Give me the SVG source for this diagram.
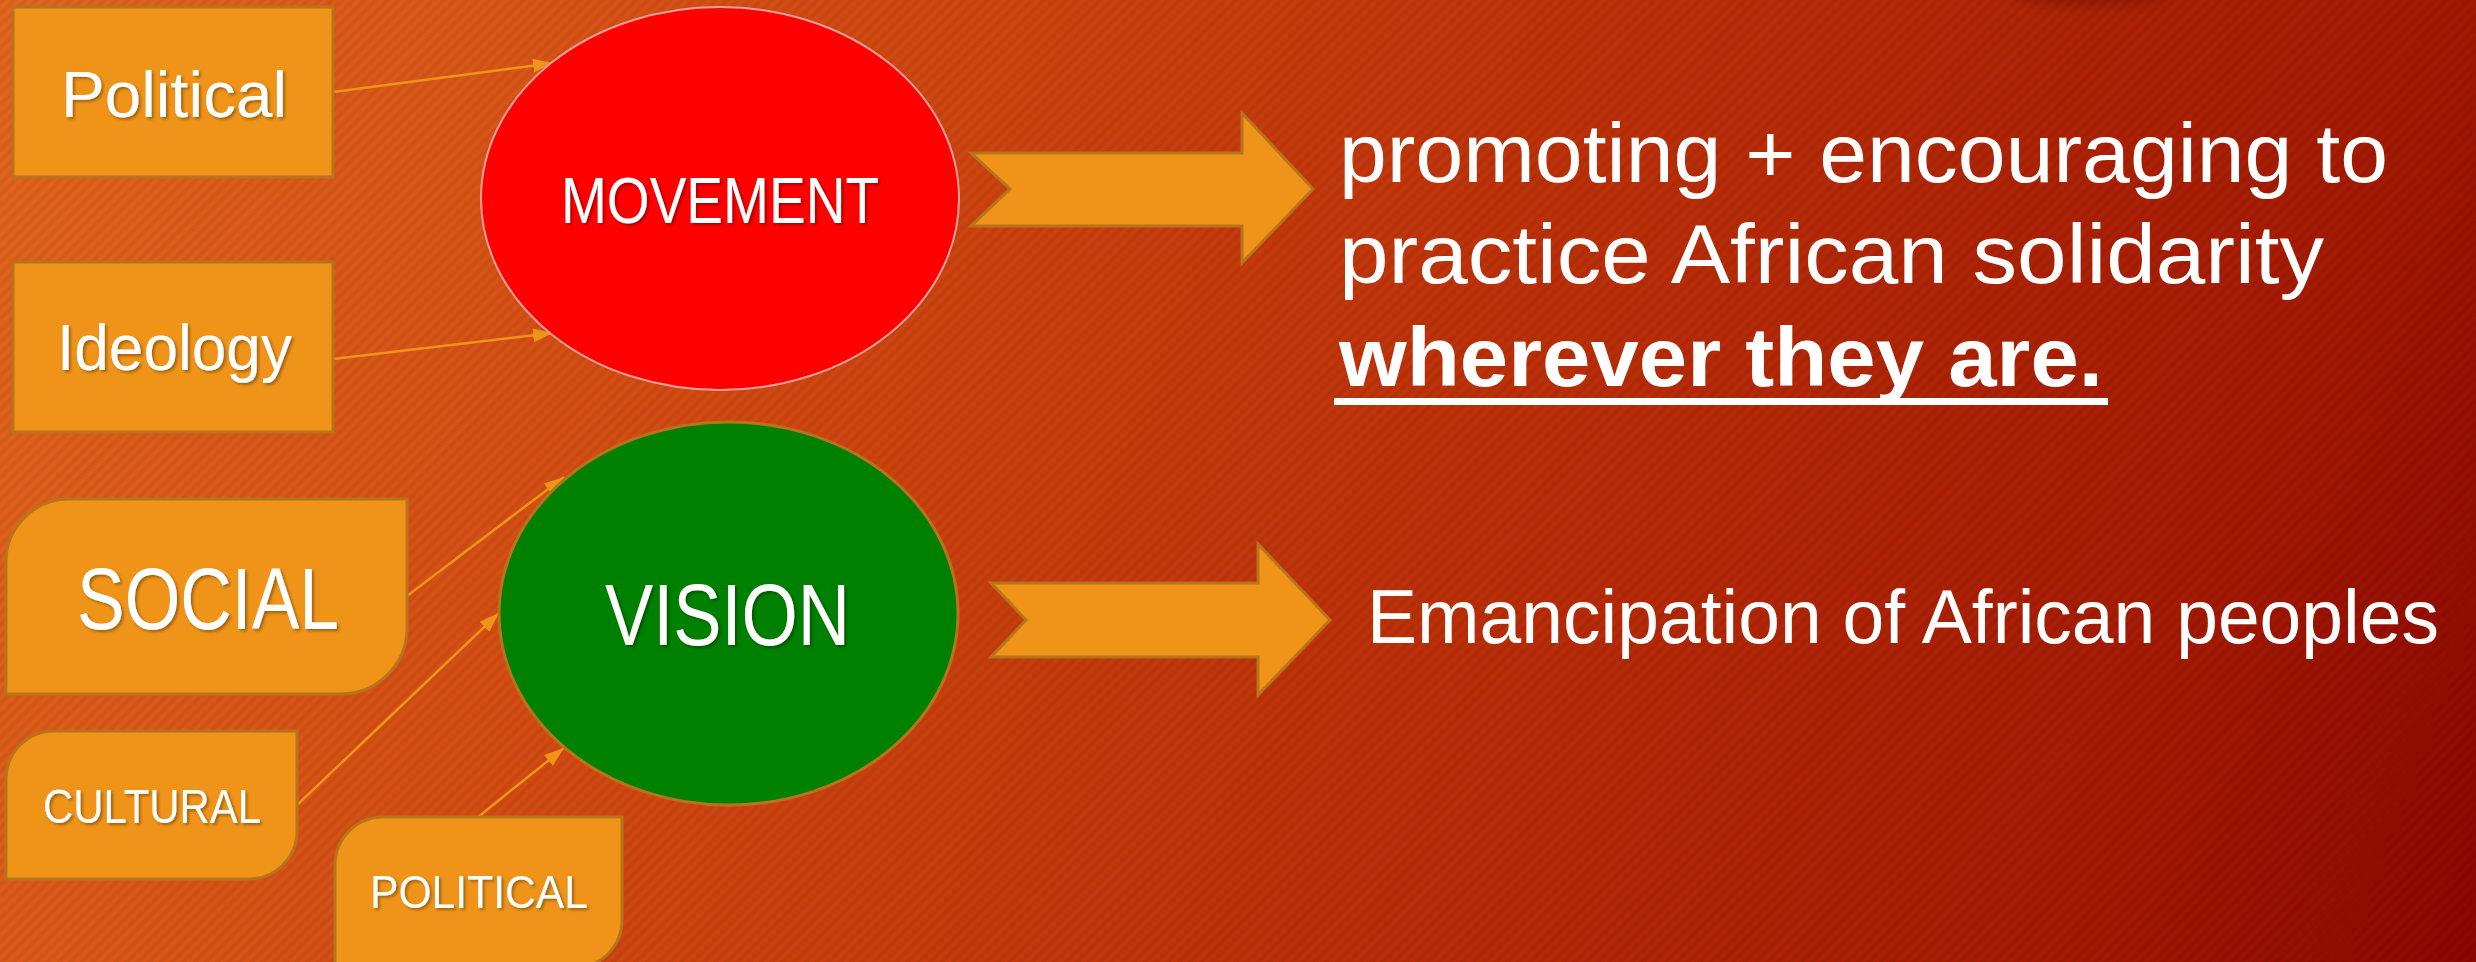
<svg xmlns="http://www.w3.org/2000/svg" width="2476" height="962" viewBox="0 0 2476 962">
<defs>
<linearGradient id="bg" gradientUnits="userSpaceOnUse" x1="0" y1="0" x2="2476" y2="962">
<stop offset="0" stop-color="#E2661E"/>
<stop offset="0.3" stop-color="#D24A12"/>
<stop offset="0.6" stop-color="#BA2E08"/>
<stop offset="0.85" stop-color="#A41A04"/>
<stop offset="1" stop-color="#8A0600"/>
</linearGradient>
<pattern id="stripes" width="8" height="8" patternUnits="userSpaceOnUse" patternTransform="rotate(45)">
<rect x="0" y="0" width="4" height="8" fill="#000" fill-opacity="0.05"/>
</pattern>
<filter id="ts" x="-10%" y="-20%" width="120%" height="140%">
<feDropShadow dx="2" dy="2" stdDeviation="1.5" flood-color="#000" flood-opacity="0.35"/>
</filter>
<filter id="blur" x="-50%" y="-200%" width="200%" height="500%">
<feGaussianBlur stdDeviation="8"/>
</filter>
<marker id="ah" markerUnits="userSpaceOnUse" markerWidth="22" markerHeight="16" refX="20" refY="7" orient="auto">
<path d="M0,0 L20,7 L0,14 Z" fill="#EF9419"/>
</marker>
<style>
.box{fill:#EF9419;stroke:#B8741A;stroke-width:3}
.conn{fill:none;stroke:#EF9419;stroke-width:2.5}
.blk{fill:#EF9419;stroke:#B8741A;stroke-width:3}
.t{font-family:"Liberation Sans","DejaVu Sans",sans-serif;fill:#fff}
.ts{filter:url(#ts)}
</style>
</defs>
<rect width="2476" height="962" fill="url(#bg)"/>
<rect width="2476" height="962" fill="url(#stripes)"/>
<ellipse cx="2090" cy="-10" rx="80" ry="14" fill="#4a0a00" fill-opacity="0.35" filter="url(#blur)"/>

<g id="connectors">
<line class="conn" x1="333" y1="92" x2="553" y2="63" marker-end="url(#ah)"/>
<line class="conn" x1="333" y1="359" x2="553" y2="333" stroke-width="4" marker-end="url(#ah)"/>
<line class="conn" x1="407" y1="596" x2="564" y2="477" marker-end="url(#ah)"/>
<line class="conn" x1="297" y1="805" x2="499" y2="613" marker-end="url(#ah)"/>
<line class="conn" x1="478" y1="817" x2="564" y2="748" marker-end="url(#ah)"/>
</g>

<g id="node-political">
<rect class="box" x="13" y="7" width="320" height="170"/>
<text class="t ts" x="61" y="117" font-size="64" textLength="226" lengthAdjust="spacingAndGlyphs">Political</text>
</g>
<g id="node-ideology">
<rect class="box" x="13" y="262" width="320" height="170"/>
<text class="t ts" x="57" y="370" font-size="64" textLength="235" lengthAdjust="spacingAndGlyphs">Ideology</text>
</g>
<g id="node-movement">
<ellipse cx="720" cy="198.5" rx="239" ry="191.5" fill="#FF0000" stroke="#F4A09A" stroke-width="2"/>
<text class="t ts" x="561" y="223" font-size="64" textLength="318" lengthAdjust="spacingAndGlyphs">MOVEMENT</text>
</g>
<g id="node-social">
<path class="box" d="M6,694 L6,562 A63,63 0 0 1 69,499 L407,499 L407,628 A66,66 0 0 1 341,694 Z"/>
<text class="t ts" x="77" y="629" font-size="87" textLength="262" lengthAdjust="spacingAndGlyphs">SOCIAL</text>
</g>
<g id="node-cultural">
<path class="box" d="M6,879 L6,779 A48,48 0 0 1 54,731 L297,731 L297,831 A48,48 0 0 1 249,879 Z"/>
<text class="t ts" x="43" y="823" font-size="48" textLength="218" lengthAdjust="spacingAndGlyphs">CULTURAL</text>
</g>
<g id="node-political2">
<path class="box" d="M335,968 L335,865 A48,48 0 0 1 383,817 L622,817 L622,920 A48,48 0 0 1 574,968 Z"/>
<text class="t ts" x="370" y="908" font-size="47" textLength="218" lengthAdjust="spacingAndGlyphs">POLITICAL</text>
</g>
<g id="node-vision">
<ellipse cx="728.5" cy="613.5" rx="229.5" ry="191.5" fill="#008000" stroke="#B8741A" stroke-width="3"/>
<text class="t ts" x="605" y="645" font-size="87" textLength="245" lengthAdjust="spacingAndGlyphs">VISION</text>
</g>
<g id="node-arrow1">
<path class="blk" d="M971,153 L1242,153 L1242,113 L1313,189 L1242,263 L1242,226 L971,226 L1010,189 Z"/>
</g>
<g id="node-arrow2">
<path class="blk" d="M991,583 L1258,583 L1258,544 L1330,620 L1258,695 L1258,657 L991,657 L1026,620 Z"/>
</g>
<g id="node-text1">
<text class="t" x="1339" y="182" font-size="84" textLength="1049" lengthAdjust="spacingAndGlyphs">promoting + encouraging to</text>
<text class="t" x="1339" y="283" font-size="84" textLength="985" lengthAdjust="spacingAndGlyphs">practice African solidarity</text>
<text class="t" x="1339" y="386" font-size="84" font-weight="bold" textLength="764" lengthAdjust="spacingAndGlyphs">wherever they are.</text>
<rect x="1334" y="398" width="774" height="7" fill="#fff"/>
</g>
<g id="node-text2">
<text class="t" x="1367" y="643" font-size="76" textLength="1072" lengthAdjust="spacingAndGlyphs">Emancipation of African peoples</text>
</g>
</svg>
